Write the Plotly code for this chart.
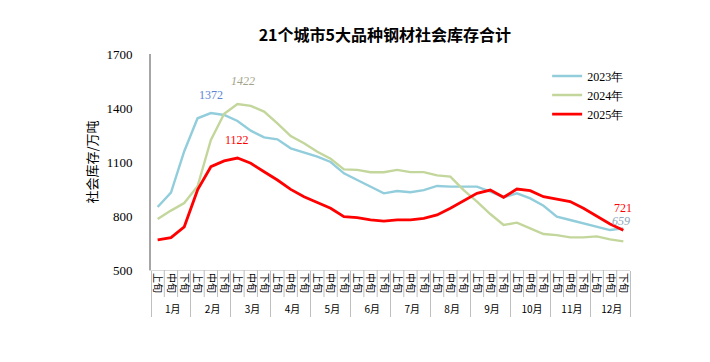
import plotly.graph_objects as go

months = [f"{m}月" for m in range(1, 13)]
periods = ["上旬", "中旬", "下旬"]

y2023 = [850, 930, 1160, 1343, 1372, 1361, 1328, 1274, 1237, 1226, 1176, 1154,
         1130, 1100, 1037, 1000, 963, 926, 939, 932, 944, 967, 963, 963,
         963, 935, 904, 926, 898, 857, 796, 778, 759, 741, 722, 731]
y2024 = [783, 830, 872, 965, 1222, 1368, 1422, 1412, 1380, 1315, 1244, 1204,
         1157, 1118, 1059, 1056, 1043, 1043, 1056, 1044, 1044, 1026, 1019, 944,
         880, 811, 750, 763, 731, 700, 694, 681, 681, 687, 670, 659]
y2025 = [668, 680, 740, 945, 1074, 1106, 1122, 1093, 1046, 1000, 948, 907,
         875, 843, 796, 791, 778, 772, 778, 778, 787, 806, 843, 885,
         926, 944, 904, 950, 941, 907, 894, 880, 843, 800, 756, 721]

series_names = ["2023年", "2024年", "2025年"]
series_colors = ["#92CDDC", "#C3D69B", "#FF0000"]
series_widths = [2.4, 2.4, 2.8]

outer = [m for m in months for _ in periods]
inner = [p for _ in months for p in periods]
n = len(inner)

fig = go.Figure()
for name, ys, col, w in zip(series_names, [y2023, y2024, y2025], series_colors, series_widths):
    fig.add_trace(go.Scatter(x=[outer, inner], y=ys, mode="lines", name=name,
                             line=dict(color=col, width=w)))

# value labels
def ann(xi, yv, text, color, italic=False, dx=0, dy=0):
    fig.add_annotation(x=xi, y=yv, text=f"<i>{text}</i>" if italic else text,
                       showarrow=False, xshift=dx, yshift=dy,
                       font=dict(family="Liberation Serif", size=12, color=color))

i_max23 = y2023.index(max(y2023))
i_max24 = y2024.index(max(y2024))
i_max25 = y2025.index(max(y2025))
ann([outer[i_max23], inner[i_max23]], y2023[i_max23], str(y2023[i_max23]), "#5B84D6", dy=18)
ann([outer[i_max24], inner[i_max24]], y2024[i_max24], str(y2024[i_max24]), "#A3A38A", italic=True, dx=6, dy=23)
ann([outer[i_max25], inner[i_max25]], y2025[i_max25], str(y2025[i_max25]), "#FF0000", dy=18)
ann([outer[-1], inner[-1]], y2025[-1], str(y2025[-1]), "#FF0000", dx=0, dy=22)
ann([outer[-1], inner[-1]], y2024[-1], str(y2024[-1]), "#8FA8BC", italic=True, dx=-2, dy=20)

# separators between the ten-day periods in the label row
for k in range(1, n):
    if k % 3 != 0:
        fig.add_shape(type="line", xref="x", yref="paper", x0=k - 0.5, x1=k - 0.5,
                      y0=0, y1=-0.125, line=dict(color="#BFBFBF", width=1))

fig.update_layout(
    width=710, height=362,
    margin=dict(l=151, r=80, t=54, b=92),
    paper_bgcolor="white", plot_bgcolor="white",
    title=dict(text="<b>21个城市5大品种钢材社会库存合计</b>", x=0.542, xanchor="center",
               y=0.903, yanchor="middle",
               font=dict(family="Noto Sans CJK SC", size=16, color="#000000")),
    legend=dict(x=0.827, y=0.965, xanchor="left", yanchor="top",
                font=dict(family="Liberation Serif", size=12, color="#000000"),
                bgcolor="rgba(0,0,0,0)", tracegroupgap=0, itemwidth=30),
    showlegend=True,
)
fig.update_yaxes(range=[500, 1700], dtick=300, tick0=500, showgrid=False,
                 showline=True, linecolor="#A6A6A6", linewidth=2,
                 ticks="outside", ticklen=14, tickcolor="rgba(0,0,0,0)",
                 zeroline=False,
                 tickfont=dict(family="Liberation Serif", size=13, color="#000000"),
                 title=dict(text="社会库存/万吨", standoff=6,
                            font=dict(family="Noto Sans CJK SC", size=13, color="#000000")))
fig.update_xaxes(type="multicategory", range=[-0.5, n - 0.5], showgrid=False, showline=True,
                 linecolor="#D9D9D9", linewidth=1, ticks="",
                 showdividers=True, dividercolor="#BFBFBF", dividerwidth=1,
                 tickangle=90,
                 tickfont=dict(family="Noto Sans CJK SC", size=10, color="#000000"))

fig.write_html("out.html", config={"displayModeBar": False},
               post_script="document.body.style.margin='0';document.body.style.padding='0';")
